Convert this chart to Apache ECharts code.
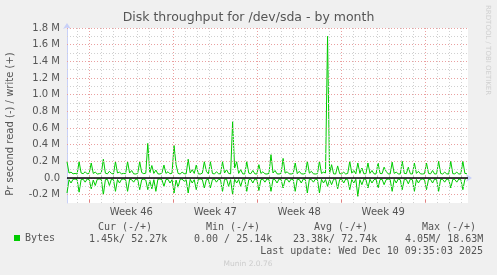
<!DOCTYPE html>
<html><head><meta charset="utf-8">
<script src="https://cdn.jsdelivr.net/npm/echarts@6/dist/echarts.min.js"></script>
<style>html,body{margin:0;padding:0;background:#f0f0f0}#c{width:497px;height:275px}</style>
</head><body><div id="c"></div><script>
// ---- data ----
const titleText = 'Disk throughput for /dev/sda - by month';
const yAxisTitle = 'Pr second read (-) / write (+)';
const seriesName = 'Bytes';
// write bytes/s (k), one sample every ~4h
const writeK = [
195,60,70,50,55,48,195,60,52,75,
50,58,180,55,70,48,52,60,225,58,
50,80,55,48,195,60,70,50,55,52,
195,60,90,50,48,55,195,65,52,58,
415,60,150,55,95,50,48,60,155,55,
75,50,58,390,160,55,48,70,52,50,
225,60,100,55,155,50,48,58,195,80,
50,195,55,48,75,52,50,195,60,100,
55,50,675,120,195,55,100,50,48,195,
58,52,90,50,48,160,55,75,50,48,
55,280,60,90,50,48,55,235,58,75,
50,48,55,180,52,80,50,48,55,200,
58,80,50,48,52,200,55,70,60,1700,
55,160,50,48,145,52,50,70,48,55,
200,58,90,50,180,55,120,50,52,180,
55,90,50,48,180,55,52,130,80,50,
48,190,55,70,50,48,200,55,52,130,
50,48,180,55,80,50,48,52,180,55,
50,90,48,50,200,55,48,70,50,48,
200,52,50,70,48,50,200,55,52];
// read bytes/s (k), drawn below zero
const readK = [
180,20,60,15,12,20,170,18,15,50,
12,20,130,25,90,15,12,18,200,20,
15,90,12,20,160,18,60,15,12,20,
160,15,20,50,12,18,140,20,15,25,
140,30,130,20,160,15,12,20,100,18,
15,60,20,180,25,110,15,12,40,20,
180,15,60,20,140,15,12,18,120,20,
15,120,18,12,50,15,20,160,18,12,
100,20,200,15,60,18,100,15,12,160,
20,15,60,12,18,150,20,15,50,12,
18,160,15,20,60,12,18,120,20,15,
50,12,20,160,15,18,60,12,20,180,
15,18,50,12,20,180,15,60,18,100,
20,80,15,12,130,18,15,60,12,20,
140,18,60,15,220,20,80,12,18,120,
15,60,20,12,120,18,15,80,20,12,
18,160,15,60,12,20,140,15,18,70,
12,20,160,15,60,18,12,20,140,15,
18,60,12,20,160,15,18,50,12,20,
120,15,18,50,12,20,140,15,2];
const weekLabels = ['Week 46','Week 47','Week 48','Week 49'];
const weekStarts = ['2025-11-09','2025-11-16','2025-11-23','2025-11-30','2025-12-07'];
const yTickValues = [-0.2,0.0,0.2,0.4,0.6,0.8,1.0,1.2,1.4,1.6,1.8]; // labelled ticks, in M
const yMinorValues = [-0.1,0.1,0.3,0.5,0.7,0.9,1.1,1.3,1.5,1.7];   // minor grid, in M
const statHeaders = ['Cur (-/+)','Min (-/+)','Avg (-/+)','Max (-/+)'];
const statValues = ['1.45k/ 52.27k','0.00 / 25.14k','23.38k/ 72.74k','4.05M/ 18.63M'];
const lastUpdate = 'Last update: Wed Dec 10 09:35:03 2025';
const footer = 'Munin 2.0.76';
const sideText = 'RRDTOOL / TOBI OETIKER';

// ---- axis range / sampling ----
const xMin = Date.UTC(2025,10,7,3,24);
const xMax = Date.UTC(2025,11,10,13,30);
const sampleStepMs = 4.04*3600*1000;
const DAY = 86400000;
const dayTicks = [];
for (let t = Math.ceil(xMin/DAY)*DAY; t < xMax; t += DAY) dayTicks.push(t);
const weekTicks = weekStarts.map(s => Date.parse(s+'T00:00:00Z'));
const weekMids = weekLabels.map((_, i) => (weekTicks[i]+weekTicks[i+1])/2);

const writeData = writeK.map((v,i) => [xMin + i*sampleStepMs, v*1000]);
const readData = readK.map((v,i) => [xMin + i*sampleStepMs, -v*1000]);

const FONT = 'DejaVu Sans';
const MONO = 'DejaVu Sans Mono';
const TXT = '#555555';
const AXIS = '#c8d0f8';
const MGRID = '#eaa0a0';
const GRID = '#d0d0d0';
const dot = (c) => ({color:c, width:1, type:[1,2]});

const gridLines = [];
dayTicks.filter(t => !weekTicks.includes(t)).forEach(t => gridLines.push({xAxis:t, lineStyle:dot(GRID)}));
yMinorValues.forEach(m => gridLines.push({yAxis:Math.round(m*1e6), lineStyle:dot(GRID)}));
weekTicks.forEach(t => gridLines.push({xAxis:t, lineStyle:dot(MGRID)}));
yTickValues.forEach(m => gridLines.push({yAxis:Math.round(m*1e6), lineStyle:dot(MGRID)}));

const chart = echarts.init(document.getElementById('c'), null, {renderer:'canvas'});
const headerX = [125,233,341,449];
const valueX = [89,194,293,405];
const graphics = [];
statHeaders.forEach((h,i) => graphics.push({type:'text', x:headerX[i], y:227, style:{text:h, font:'10px "'+MONO+'"', fill:TXT, align:'center', verticalAlign:'middle'}}));
statValues.forEach((v,i) => graphics.push({type:'text', x:valueX[i], y:239.5, style:{text:v, font:'10px "'+MONO+'"', fill:TXT, align:'left', verticalAlign:'middle'}}));
graphics.push({type:'text', x:483, y:251.5, style:{text:lastUpdate, font:'10px "'+MONO+'"', fill:TXT, align:'right', verticalAlign:'middle'}});
graphics.push({type:'text', x:248, y:264, style:{text:footer, font:'7.5px "'+FONT+'"', fill:'#cccccc', align:'center', verticalAlign:'middle'}});
graphics.push({type:'text', x:488, y:5, rotation:-Math.PI/2, style:{text:sideText, font:'7px "'+FONT+'"', fill:'#d0d0d0', align:'left', verticalAlign:'middle'}});
graphics.push({type:'text', x:10, y:124, rotation:Math.PI/2, style:{text:yAxisTitle, font:'10px "'+FONT+'"', fill:TXT, align:'center', verticalAlign:'middle'}});

chart.setOption({
  animation:false,
  backgroundColor:'#f0f0f0',
  title:{text:titleText, left:'center', top:11, padding:0, textStyle:{fontFamily:FONT, fontSize:12.5, fontWeight:'normal', color:TXT}},
  legend:{data:[seriesName], left:14, top:233, padding:0, icon:'rect', itemWidth:6, itemHeight:6, selectedMode:false,
    textStyle:{fontFamily:MONO, fontSize:10, color:TXT}},
  grid:{left:67, right:29, top:28, bottom:72, show:true, backgroundColor:'#ffffff', borderWidth:0, containLabel:false},
  xAxis:[
    {type:'value', min:xMin, max:xMax, position:'bottom',
      axisLine:{show:true, lineStyle:{color:AXIS, width:1}, symbol:['none','arrow'], symbolSize:[6,6], symbolOffset:[0,4]},
      axisTick:{show:true, inside:true, length:2, customValues:dayTicks, lineStyle:{color:'#bbbbbb'}},
      axisLabel:{show:false},
      splitLine:{show:false}},
    {type:'value', min:xMin, max:xMax, position:'bottom',
      axisLine:{show:false},
      axisTick:{show:true, inside:true, length:3, customValues:weekTicks, lineStyle:{color:'#e08080'}},
      axisLabel:{show:true, customValues:weekMids, margin:4, fontFamily:FONT, fontSize:10, color:TXT,
        formatter:v => { const i = weekMids.indexOf(v); return i>=0 ? weekLabels[i] : ''; }},
      splitLine:{show:false}}
  ],
  yAxis:[
    {type:'value', min:-300000, max:1800000, interval:100000,
      axisLine:{show:true, lineStyle:{color:AXIS, width:1}, symbol:['none','arrow'], symbolSize:[6,6], symbolOffset:[0,5]},
      axisTick:{show:false},
      axisLabel:{margin:7, fontFamily:FONT, fontSize:10, color:TXT,
        formatter:v => { const m = Math.round(v/100000)/10; if (!yTickValues.some(t => Math.abs(t-m)<1e-9)) return ''; return m===0 ? '0.0' : m.toFixed(1)+' M'; }},
      splitLine:{show:false}}
  ],
  series:[
    {name:'grid', type:'line', data:[], xAxisIndex:0, z:1, silent:true,
      markLine:{silent:true, symbol:'none', label:{show:false}, animation:false, data:gridLines}},
    {name:seriesName, type:'line', data:readData, xAxisIndex:0, z:3, showSymbol:false, symbol:'none',
      lineStyle:{color:'#00cc00', width:1}, itemStyle:{color:'#00cc00'},
      markLine:{silent:true, symbol:'none', label:{show:false}, lineStyle:{color:'#000000', width:1.5, type:'solid'}, data:[{yAxis:0}]}},
    {name:seriesName, type:'line', data:writeData, xAxisIndex:0, z:3, showSymbol:false, symbol:'none',
      lineStyle:{color:'#00cc00', width:1}, itemStyle:{color:'#00cc00'}}
  ],
  graphic:graphics
});
</script></body></html>
